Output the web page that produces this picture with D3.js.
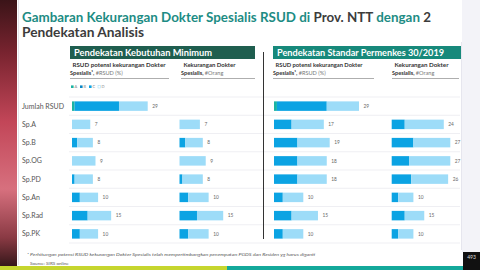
<!DOCTYPE html>
<html>
<head>
<meta charset="utf-8">
<script src="https://cdn.jsdelivr.net/npm/d3@7"></script>
<style>
  body { margin: 0; background: #fff; }
  svg { display: block; font-family: Lato, "Noto Sans", sans-serif; }
</style>
</head>
<body>
<div id="chart"></div>
<script>
// rows and stacked segments (A, B, C, D) per panel
var rows = ["Jumlah RSUD", "Sp.A", "Sp.B", "Sp.OG", "Sp.PD", "Sp.An", "Sp.Rad", "Sp.PK"];
var cats = ["A", "B", "C", "D"];

var minRsud  = [[1,0,17,11],[0,0,0,7],[0,0,2,6],[0,0,0,9],[0,0,1,7],[0,0,3,7],[0,0,6,9],[0,0,3,7]];
var minOrang = [null,[0,0,0,7],[0,0,2,6],[0,0,0,9],[0,0,1,7],[0,0,3,7],[0,0,6,9],[0,0,3,7]];
var stdRsud  = [[1,0,17,11],[0,0,6,11],[0,0,8,11],[0,0,8,10],[0,0,8,10],[0,0,3,7],[0,0,6,9],[0,0,3,7]];
var stdOrang = [null,[0,0,6,18],[0,0,10,17],[0,0,8,19],[0,0,9,17],[0,0,3,7],[0,0,6,9],[0,0,3,7]];

var width = 480, height = 270;

var color = d3.scaleOrdinal().domain(cats).range(["#1bb3a3", "#0a86c6", "#0ba3e3", "#9ddcf8"]);

var svg = d3.select("#chart").append("svg")
    .attr("width", width)
    .attr("height", height);

// left photo strip
var grad = svg.append("defs").append("linearGradient")
    .attr("id", "strip").attr("x1", 0).attr("y1", 0).attr("x2", 0).attr("y2", 1);
[["0", "#3b1418"], ["0.2", "#7a2430"], ["0.45", "#c24658"], ["0.7", "#d7707e"], ["0.88", "#8a3a44"], ["1", "#2a1214"]]
  .forEach(function(s) { grad.append("stop").attr("offset", s[0]).attr("stop-color", s[1]); });
svg.append("rect").attr("x", 0).attr("y", 0).attr("width", 17).attr("height", height).style("fill", "url(#strip)");
svg.append("line").attr("x1", 18.5).attr("x2", 18.5).attr("y1", 0).attr("y2", 265)
    .style("stroke", "#e4e4ec");
svg.append("rect").attr("x", 462).attr("y", 0).attr("width", 18).attr("height", 252).style("fill", "#f3f3f8");
svg.append("line").attr("x1", 461.5).attr("x2", 461.5).attr("y1", 42).attr("y2", 250).style("stroke", "#e6e6ee");

// title
var t1 = svg.append("text").attr("x", 22).attr("y", 22)
    .attr("textLength", 409).attr("lengthAdjust", "spacingAndGlyphs")
    .style("font-size", "13px").style("font-weight", "bold");
[["Gambaran Kekurangan Dokter Spesialis RSUD di ", "#1d8c84"], ["Prov. NTT ", "#3c3c3c"], ["dengan ", "#1d8c84"], ["2", "#3c3c3c"]]
  .forEach(function(p) { t1.append("tspan").style("fill", p[1]).text(p[0]); });
svg.append("text").attr("x", 22).attr("y", 37)
    .attr("textLength", 122).attr("lengthAdjust", "spacingAndGlyphs")
    .style("font-size", "13px").style("font-weight", "bold").style("fill", "#3c3c3c")
    .text("Pendekatan Analisis");

// panel headers
var headers = [
  {x: 70, w: 185, fill: "#1f5e4f", text: "Pendekatan Kebutuhan Minimum", tl: 138},
  {x: 273, w: 188, fill: "#17897b", text: "Pendekatan Standar Permenkes 30/2019", tl: 167}
];
headers.forEach(function(h) {
  svg.append("rect").attr("x", h.x).attr("y", 46).attr("width", h.w).attr("height", 13).style("fill", h.fill);
  svg.append("text").attr("x", h.x + 4).attr("y", 55.8)
      .attr("textLength", h.tl).attr("lengthAdjust", "spacingAndGlyphs")
      .style("font-size", "9px").style("font-weight", "bold").style("fill", "#fff").text(h.text);
});

// y scale
var y = d3.scaleBand().domain(rows).range([97, 243]).paddingInner(0.48).paddingOuter(0.24);
var step = y.step();

// row separators
svg.selectAll(".sep")
    .data(d3.range(rows.length + 1))
  .enter().append("line")
    .attr("class", "sep")
    .attr("x1", 69).attr("x2", 460)
    .attr("y1", function(i) { return 97 + i * step; })
    .attr("y2", function(i) { return 97 + i * step; })
    .style("stroke", "#ebebf0").style("stroke-width", 0.8);

// row labels
svg.selectAll(".rowlab")
    .data(rows)
  .enter().append("text")
    .attr("class", "rowlab")
    .attr("x", 22)
    .attr("y", function(d) { return y(d) + y.bandwidth() / 2; })
    .attr("dy", "0.35em")
    .style("font-size", "7px").style("fill", "#555")
    .text(function(d) { return d; });

// divider between approaches
svg.append("line").attr("x1", 263.5).attr("x2", 263.5).attr("y1", 52).attr("y2", 239)
    .style("stroke", "#333").style("stroke-width", 1);

// panels
var panels = [
  {data: minRsud,  x0: 72,    max: 29, w: 75.7, l1: "RSUD potensi kekurangan Dokter", l1w: 93, l2a: "Spesialis\u00b9, ", l2b: "#RSUD (%)", ux: 70, uw: 99},
  {data: minOrang, x0: 179.5, max: 15, w: 43.7, l1: "Kekurangan Dokter", l1w: 52, l2a: "Spesialis, ", l2b: "#Orang", ux: 181, uw: 74},
  {data: stdRsud,  x0: 274,   max: 29, w: 85,   l1: "RSUD potensi kekurangan Dokter", l1w: 87, l2a: "Spesialis\u00b9, ", l2b: "#RSUD (%)", ux: 273, uw: 101},
  {data: stdOrang, x0: 391.7, max: 27, w: 58.6, l1: "Kekurangan Dokter", l1w: 54, l2a: "Spesialis, ", l2b: "#Orang", ux: 392, uw: 67}
];

panels.forEach(function(p) {
  var x = d3.scaleLinear().domain([0, p.max]).range([p.x0, p.x0 + p.w]);

  // column subheader
  svg.append("text").attr("x", p.ux + 2.5).attr("y", 67)
      .attr("textLength", p.l1w).attr("lengthAdjust", "spacingAndGlyphs")
      .style("font-size", "5.6px").style("font-weight", "bold").style("fill", "#333").text(p.l1);
  var t = svg.append("text").attr("x", p.ux).attr("y", 74.5).style("font-size", "5.6px").style("fill", "#333");
  t.append("tspan").style("font-weight", "bold").text(p.l2a);
  t.append("tspan").style("fill", "#777").text(p.l2b);
  svg.append("line").attr("x1", p.ux).attr("x2", p.ux + p.uw).attr("y1", 78.5).attr("y2", 78.5)
      .style("stroke", "#999").style("stroke-width", 0.8);

  var rowData = rows.map(function(r, i) { return {row: r, v: p.data[i]}; })
      .filter(function(d) { return d.v; });

  var stack = d3.stack().keys([0, 1, 2, 3]);
  var series = stack(rowData.map(function(d) { return d.v; }));

  series.forEach(function(s, k) {
    svg.selectAll(null)
        .data(s)
      .enter().append("rect")
        .attr("x", function(d) { return x(d[0]); })
        .attr("width", function(d) { return x(d[1]) - x(d[0]); })
        .attr("y", function(d, i) { return y(rowData[i].row); })
        .attr("height", y.bandwidth())
        .style("fill", color(cats[k]));
  });

  svg.selectAll(null)
      .data(rowData)
    .enter().append("text")
      .attr("x", function(d) { return x(d3.sum(d.v)) + 4.5; })
      .attr("y", function(d) { return y(d.row) + y.bandwidth() / 2; })
      .attr("dy", "0.35em")
      .style("font-size", "4.8px").style("fill", "#666")
      .text(function(d) { return d3.sum(d.v); });
});

// tiny legend
var leg = svg.selectAll(".legend")
    .data(cats)
  .enter().append("g")
    .attr("class", "legend")
    .attr("transform", function(d, i) { return "translate(" + (71 + i * 9) + ",86.7)"; });
leg.append("rect")
    .attr("x", 0).attr("y", -1.3).attr("width", 2.6).attr("height", 2.6)
    .style("fill", function(d) { return d === "D" ? "#fff" : color(d); })
    .style("stroke", function(d) { return d === "D" ? "#9ddcf8" : "none"; })
    .style("stroke-width", 0.5);
leg.append("text")
    .attr("x", 3.5).attr("dy", "0.35em")
    .style("font-size", "4px").style("fill", "#888")
    .text(function(d) { return d; });

// footnote and source
svg.append("text").attr("x", 27).attr("y", 255.5)
    .attr("textLength", 288).attr("lengthAdjust", "spacingAndGlyphs")
    .style("font-size", "4.6px").style("font-style", "italic").style("fill", "#555")
    .text("\u00b9 Perhitungan potensi RSUD kekurangan Dokter Spesialis telah mempertimbangkan penempatan PGDS dan Residen yg harus diganti");
svg.append("text").attr("x", 30).attr("y", 264.5)
    .style("font-size", "4.6px").style("fill", "#555")
    .text("Source: SIRS online");

// bottom band and page number
svg.append("rect").attr("x", 0).attr("y", 266).attr("width", 227).attr("height", 4).style("fill", "#c6d62e");
svg.append("rect").attr("x", 227).attr("y", 266).attr("width", 236).attr("height", 4).style("fill", "#14a99b");
svg.append("rect").attr("x", 463).attr("y", 252).attr("width", 17).attr("height", 18).style("fill", "#111");
svg.append("text").attr("x", 471.5).attr("y", 259).attr("text-anchor", "middle")
    .style("font-size", "5px").style("fill", "#ddd").text("493");
</script>
</body>
</html>
